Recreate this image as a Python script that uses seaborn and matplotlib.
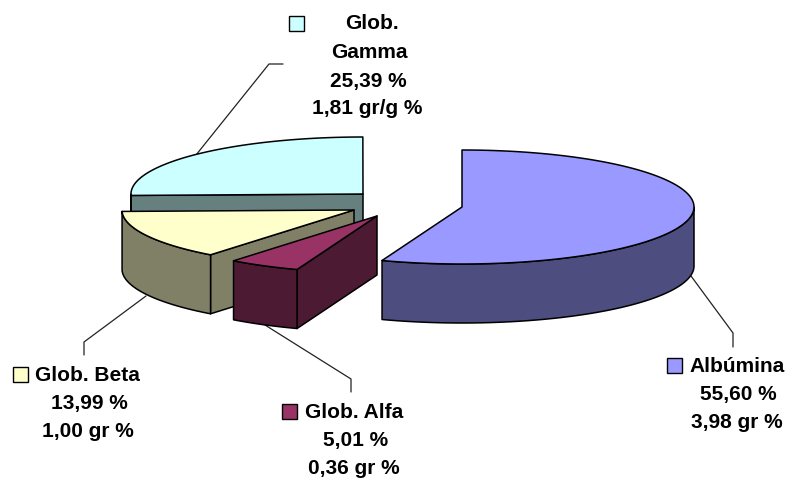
import numpy as np
import matplotlib
matplotlib.use("Agg")
import matplotlib.pyplot as plt
import seaborn as sns

# Serum protein fractions
fractions = ["Albúmina", "Glob. Alfa", "Glob. Beta", "Glob. Gamma"]
percent = [55.60, 5.01, 13.99, 25.39]
grams = [3.98, 0.36, 1.00, 1.81]
units = ["gr %", "gr %", "gr %", "gr/g %"]

top_colors = ["#9999FF", "#993366", "#FFFFCC", "#CCFFFF"]
side_colors = ["#4D4D80", "#4D1A33", "#808066", "#668080"]

# Exploded centre of every slice, in figure pixels
centres = [(462, 207), (377, 216), (354, 210), (363, 194)]
RX, RY, DEPTH = 232, 57, 59

sns.set_theme(style="white")
plt.rcParams["font.family"] = ["Liberation Sans", "DejaVu Sans"]
top_palette = sns.color_palette(top_colors)
side_palette = sns.color_palette(side_colors)

fig = plt.figure(figsize=(7.87, 4.79), dpi=100, facecolor="white")
ax = fig.add_axes([0, 0, 1, 1])
ax.set_xlim(0, 787)
ax.set_ylim(479, 0)
ax.axis("off")


def rim(cx, cy, a0, a1, n=160):
    t = np.radians(np.linspace(a0, a1, n))
    return cx + RX * np.cos(t), cy - RY * np.sin(t)


def draw_slice(share_start, share_end, centre, top, side, z):
    cx, cy = centre
    a0 = 90 - 3.6 * share_start
    a1 = 90 - 3.6 * share_end
    edge = dict(edgecolor="black", linewidth=1.1, joinstyle="round", zorder=z)

    # Radial cut faces that turn toward the viewer
    for angle, turned in ((a0, np.sin(np.radians(a0 - 90)) < 0), (a1, False)):
        if turned or (a0 < -90 and angle == a0):
            x, y = rim(cx, cy, angle, angle, 1)
            ax.fill([cx, x[0], x[0], cx], [cy, y[0], y[0] + DEPTH, cy + DEPTH],
                    facecolor=side, **edge)

    # Outer wall: only the part of the rim on the lower half
    lo, hi = max(a1, -180), min(a0, 0)
    if hi > lo:
        x, y = rim(cx, cy, hi, lo)
        ax.fill(np.r_[x, x[::-1]], np.r_[y, y[::-1] + DEPTH], facecolor=side, **edge)

    # Top surface
    x, y = rim(cx, cy, a0, a1)
    ax.fill(np.r_[cx, x], np.r_[cy, y], facecolor=top, **edge)


starts = np.r_[0, np.cumsum(percent)[:-1]]
ends = np.cumsum(percent)
for i in (3, 2, 1, 0):
    draw_slice(starts[i], ends[i], centres[i], top_palette[i], side_palette[i], 4 - i)

# Leader lines from the slices to their labels
leaders = [
    ([691, 733, 733], [276, 333, 347]),
    ([265, 351, 351], [325, 379, 392]),
    ([146, 84, 84], [296, 342, 355]),
    ([196, 269, 283], [155, 64, 64]),
]
for lx, ly in leaders:
    ax.plot(lx, ly, color="#222222", lw=0.9, zorder=0.5)

# Label blocks: legend key, then name and value lines
keys = [(667, 358), (282, 404), (13, 367), (289, 16)]
KEY = 15
text_style = dict(fontsize=15, fontweight="bold", color="black", va="baseline", zorder=6)


def comma(v):
    return f"{v:.2f}".replace(".", ",")


name_lines = [
    [("Albúmina", 689, 372, "left")],
    [("Glob. Alfa", 305, 418, "left")],
    [("Glob. Beta", 35, 381, "left")],
    [("Glob.", 372, 29, "center"), ("Gamma", 369, 58, "center")],
]
value_rows = [
    ((738, 400), (737, 428)),
    ((356, 446), (354, 474)),
    ((89, 409), (88, 437)),
    ((368, 87), (367, 114)),
]
for i in range(len(fractions)):
    kx, ky = keys[i]
    ax.add_patch(plt.Rectangle((kx, ky), KEY, KEY, facecolor=top_palette[i],
                               edgecolor="black", linewidth=1.0, zorder=6))
    for txt, tx, ty, ha in name_lines[i]:
        ax.text(tx, ty, txt, ha=ha, **text_style)
    (px, py), (gx, gy) = value_rows[i]
    ax.text(px, py, f"{comma(percent[i])} %", ha="center", **text_style)
    ax.text(gx, gy, f"{comma(grams[i])} {units[i]}", ha="center", **text_style)

fig.savefig("out.png", dpi=100, facecolor="white")
